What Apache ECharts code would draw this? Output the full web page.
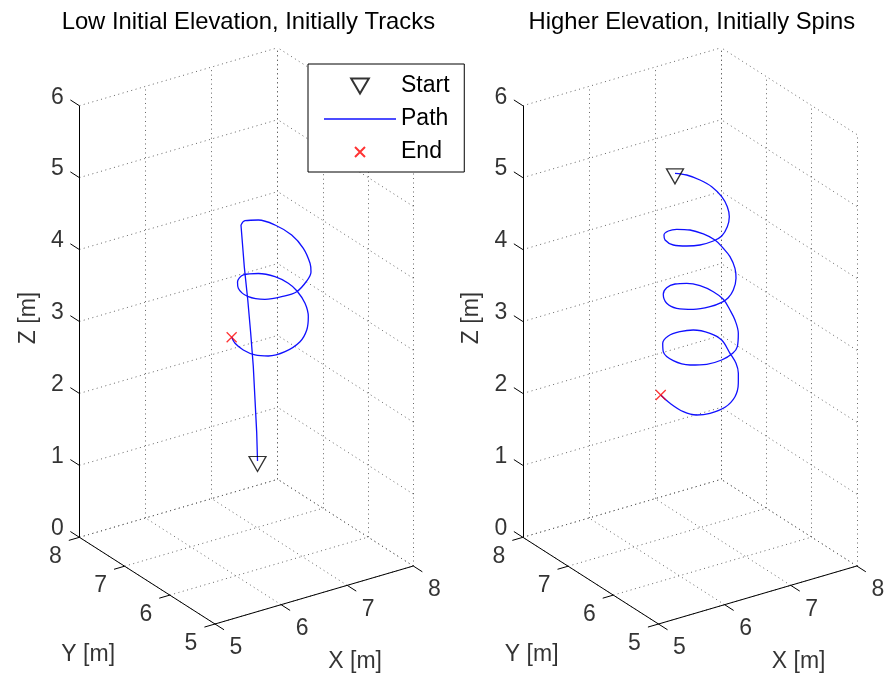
<!DOCTYPE html>
<html><head><meta charset="utf-8">
<script src="https://cdn.jsdelivr.net/npm/echarts@6/dist/echarts.min.js"></script>
<style>html,body{margin:0;padding:0;background:#fff}#c{width:886px;height:677px}</style>
</head><body><div id="c"></div>
<script>
// ---------------- data ----------------
const titles = ['Low Initial Elevation, Initially Tracks', 'Higher Elevation, Initially Spins'];
const xTicks = [5, 6, 7, 8];
const yTicks = [5, 6, 7, 8];
const zTicks = [0, 1, 2, 3, 4, 5, 6];
const axisNames = ['X [m]', 'Y [m]', 'Z [m]'];
const legendNames = ['Start', 'Path', 'End'];

// left panel: straight climb (first 7 points) then spiral down
const leftX = [6.336,6.357,6.370,6.383,6.383,6.378,6.365,
  6.364,6.506,6.726,6.887,6.965,6.932,6.812,6.719,6.594,6.380,6.210,6.060,6.007,6.124,6.248,
  6.524,6.776,6.964,7.050,7.056,6.993,6.859,6.686,6.481,6.237,6.060,5.992,6.010,6.110,6.197];
const leftY = [6.013,6.062,6.119,6.176,6.233,6.290,6.347,
  6.420,6.539,6.565,6.431,6.177,5.871,5.547,5.390,5.302,5.211,5.294,5.444,5.736,6.128,6.327,
  6.602,6.639,6.545,6.376,6.192,5.923,5.654,5.436,5.285,5.260,5.371,5.566,5.851,6.180,6.382];
const leftZ = [1.500,1.873,2.309,2.744,3.179,3.615,4.050,
  4.610,4.584,4.524,4.465,4.407,4.354,4.308,4.275,4.219,4.164,4.107,4.051,3.984,3.912,3.886,
  3.799,3.737,3.680,3.633,3.598,3.552,3.510,3.459,3.412,3.349,3.292,3.246,3.196,3.130,3.109];
const leftSpinStart = 7;

// right panel: spiral from the start
const rightX = [6.403,6.554,6.668,6.734,6.729,6.672,6.580,6.447,6.285,6.163,
  6.019,5.922,5.866,5.934,6.039,6.217,6.384,6.569,6.694,6.764,
  6.753,6.725,6.637,6.518,6.354,6.214,6.107,5.964,5.813,5.727,
  5.767,5.938,6.140,6.339,6.523,6.673,6.763,6.786,6.715,6.641,
  6.518,6.322,6.211,6.046,5.881,5.758,5.726,5.849,6.004,6.258,
  6.511,6.729,6.910,6.970,6.881,6.827,6.725,6.587,6.380,6.164,
  5.973,5.855,5.819,5.878,6.013];
const rightY = [6.687,6.649,6.522,6.358,6.130,5.923,5.744,5.594,5.480,5.488,
  5.573,5.725,5.939,6.221,6.398,6.562,6.621,6.598,6.486,6.330,
  6.130,5.941,5.702,5.505,5.325,5.232,5.221,5.270,5.419,5.661,
  5.940,6.266,6.486,6.593,6.603,6.528,6.366,6.178,5.927,5.708,
  5.454,5.189,5.129,5.132,5.221,5.411,5.735,6.136,6.375,6.623,
  6.734,6.759,6.653,6.483,6.169,5.957,5.756,5.555,5.326,5.231,
  5.283,5.405,5.648,6.029,6.432];
const rightZ = [5.211,5.162,5.113,5.068,5.022,4.981,4.939,4.896,4.856,4.816,
  4.765,4.716,4.659,4.597,4.567,4.509,4.464,4.414,4.370,4.330,
  4.298,4.265,4.223,4.195,4.149,4.117,4.086,4.044,3.988,3.928,
  3.875,3.823,3.772,3.727,3.683,3.640,3.597,3.561,3.532,3.501,
  3.451,3.424,3.386,3.336,3.285,3.232,3.170,3.101,3.080,3.014,
  2.961,2.916,2.864,2.823,2.788,2.749,2.718,2.697,2.658,2.607,
  2.554,2.513,2.471,2.419,2.336];
const rightSpinStart = 0;

// ---------------- view / layout ----------------
const FONT = '"Liberation Sans", Arial, Helvetica, sans-serif';
const FS = 23;
const PROJ = {ux: 66.1, uy: -45.2, vx: 19.33, vy: 28.9, vz: 71.93}; // orthographic 3D view
const PANELS = [{left: 0, width: 443, originX: 215}, {left: 443, width: 443, originX: 658.5}];
const ORIGIN_Y = 624, HEIGHT = 677;
const TICK = {x: 0.2, y: 0.16, z: 0.2};

const xMin = xTicks[0], xMax = xTicks[xTicks.length - 1];
const yMin = yTicks[0], yMax = yTicks[yTicks.length - 1];
const zMin = zTicks[0], zMax = zTicks[zTicks.length - 1];

function proj(x, y, z) {
  const dx = x - xMin, dy = y - yMin;
  return [PROJ.ux * dx + PROJ.uy * dy, PROJ.vx * dx + PROJ.vy * dy + PROJ.vz * (z - zMin)];
}

function gridSegs() {
  const s = [];
  xTicks.forEach(x => { s.push([proj(x, yMin, zMin), proj(x, yMax, zMin)]); s.push([proj(x, yMax, zMin), proj(x, yMax, zMax)]); });
  yTicks.forEach(y => { s.push([proj(xMin, y, zMin), proj(xMax, y, zMin)]); s.push([proj(xMax, y, zMin), proj(xMax, y, zMax)]); });
  zTicks.forEach(z => { s.push([proj(xMin, yMax, z), proj(xMax, yMax, z)]); s.push([proj(xMax, yMin, z), proj(xMax, yMax, z)]); });
  return s;
}
function axisSegs() {
  const s = [
    [proj(xMin, yMax, zMin), proj(xMin, yMax, zMax)],
    [proj(xMin, yMin, zMin), proj(xMin, yMax, zMin)],
    [proj(xMin, yMin, zMin), proj(xMax, yMin, zMin)]
  ];
  zTicks.forEach(z => s.push([proj(xMin, yMax, z), proj(xMin, yMax + TICK.z, z)]));
  yTicks.forEach(y => s.push([proj(xMin, y, zMin), proj(xMin - TICK.y, y, zMin)]));
  xTicks.forEach(x => s.push([proj(x, yMin, zMin), proj(x, yMin - TICK.x, zMin)]));
  return s;
}

function labelSeries(g, pts, offset, rotate) {
  return {
    type: 'scatter', xAxisIndex: g, yAxisIndex: g, symbolSize: 1, silent: true, z: 6,
    itemStyle: {color: 'rgba(0,0,0,0)'},
    data: pts,
    label: {show: true, position: 'inside', offset: offset, rotate: rotate || 0,
      formatter: p => p.value[2], fontSize: FS, fontFamily: FONT, color: '#000'}
  };
}

const TRI = 'path://M0,0L20,0L10,17Z';
const CROSS = 'path://M-2.5,-2.5M0,0L10,10M10,0L0,10M12.5,12.5';
const LINE_ICON = 'path://M0,0L72,0L72,1.3L0,1.3Z';

const paths = [
  {x: leftX, y: leftY, z: leftZ, spin: leftSpinStart},
  {x: rightX, y: rightY, z: rightZ, spin: rightSpinStart}
];

const series = [];
PANELS.forEach((p, g) => {
  series.push({type: 'lines', coordinateSystem: 'cartesian2d', xAxisIndex: g, yAxisIndex: g, silent: true, z: 1,
    data: gridSegs().map(c => ({coords: c})),
    lineStyle: {color: '#555', width: 0.9, type: [1, 3.5], opacity: 1}});
  series.push({type: 'lines', coordinateSystem: 'cartesian2d', xAxisIndex: g, yAxisIndex: g, silent: true, z: 2,
    data: axisSegs().map(c => ({coords: c})),
    lineStyle: {color: '#000', width: 1, type: 'solid', opacity: 1}});
  const d = paths[g];
  const pts = d.x.map((x, i) => proj(x, d.y[i], d.z[i]));
  if (d.spin > 0) {
    series.push({name: 'Path', type: 'line', xAxisIndex: g, yAxisIndex: g, symbol: 'none', z: 3,
      data: pts.slice(0, d.spin + 1), lineStyle: {color: '#1010ff', width: 1.3}, itemStyle: {color: '#1010ff'}});
  }
  series.push({name: 'Path', type: 'line', xAxisIndex: g, yAxisIndex: g, symbol: 'none', smooth: 0.35, z: 3,
    data: pts.slice(d.spin), lineStyle: {color: '#1010ff', width: 1.3}, itemStyle: {color: '#1010ff'}});
  series.push({name: 'Start', type: 'scatter', xAxisIndex: g, yAxisIndex: g, z: 4,
    symbol: TRI, symbolSize: [17, 15], symbolOffset: [0, 3],
    itemStyle: {color: 'rgba(255,255,255,0)', borderColor: '#000', borderWidth: 1.3},
    data: [pts[0]]});
  series.push({name: 'End', type: 'scatter', xAxisIndex: g, yAxisIndex: g, z: 4,
    symbol: CROSS, symbolSize: 15,
    itemStyle: {color: 'rgba(255,0,0,0)', borderColor: '#ff0000', borderWidth: 1.3},
    data: [pts[pts.length - 1]]});
  // tick labels
  series.push(labelSeries(g, zTicks.map(z => proj(xMin, yMax, z).concat(String(z))), [-22, -8.5]));
  series.push(labelSeries(g, yTicks.map(y => proj(xMin, y, zMin).concat(String(y))), [-24, 19.5]));
  series.push(labelSeries(g, xTicks.map(x => proj(x, yMin, zMin).concat(String(x))), [21, 24]));
  // axis names
  series.push(labelSeries(g, [proj((xMin + xMax) / 2, yMin, zMin).concat(axisNames[0])], [41, 67]));
  series.push(labelSeries(g, [proj(xMin, (yMin + yMax) / 2, zMin).concat(axisNames[1])], [-59, 74]));
  series.push(labelSeries(g, [proj(xMin, yMax, (zMin + zMax) / 2).concat(axisNames[2])], [3.5, -51], 90));
});

const graphic = PANELS.map((p, g) => {
  const l = proj(xMin, yMax, zMin)[0], r = proj(xMax, yMin, zMin)[0];
  return {type: 'text', x: p.originX + (l + r) / 2 + 2, y: 22.5, silent: true,
    style: {text: titles[g], font: '23.8px ' + FONT, fill: '#000', align: 'center', verticalAlign: 'middle'}};
});

const chart = echarts.init(document.getElementById('c'));
chart.setOption({
  animation: false,
  backgroundColor: '#fff',
  grid: PANELS.map(p => ({left: p.left, top: 0, width: p.width, height: HEIGHT})),
  xAxis: PANELS.map((p, i) => ({type: 'value', gridIndex: i, min: -(p.originX - p.left), max: p.left + p.width - p.originX, show: false})),
  yAxis: PANELS.map((p, i) => ({type: 'value', gridIndex: i, min: -(HEIGHT - ORIGIN_Y), max: ORIGIN_Y, show: false})),
  legend: {data: [legendNames[0], {name: legendNames[1], icon: LINE_ICON}, legendNames[2]],
    orient: 'vertical', left: 308, top: 64, selectedMode: false,
    padding: [10.5, 14.7, 8.5, 16], itemWidth: 72, itemHeight: 15, itemGap: 10,
    borderColor: '#000', borderWidth: 1, backgroundColor: '#fff', borderRadius: 0,
    textStyle: {fontSize: FS, fontFamily: FONT, color: '#000'}},
  graphic: graphic,
  series: series
});
</script>
</body></html>
